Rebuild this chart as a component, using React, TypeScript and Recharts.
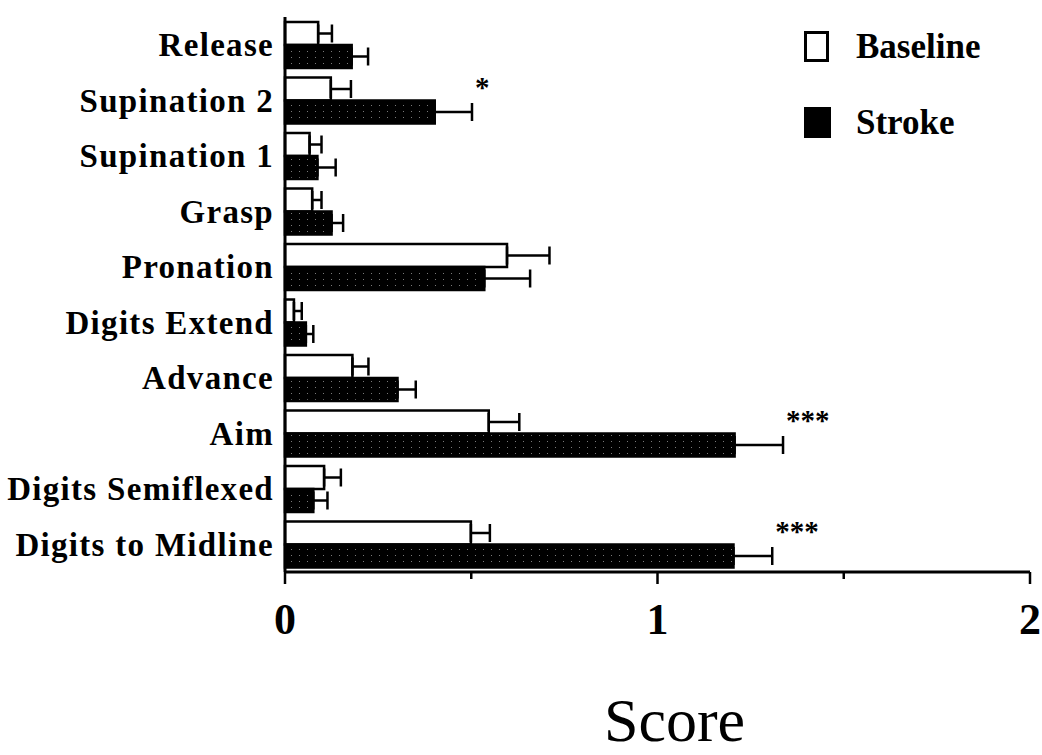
import React from "react"
import {
  BarChart,
  Bar,
  XAxis,
  YAxis,
  ErrorBar,
  LabelList,
  Legend
} from "recharts"

const categories = [
  "Release",
  "Supination 2",
  "Supination 1",
  "Grasp",
  "Pronation",
  "Digits Extend",
  "Advance",
  "Aim",
  "Digits Semiflexed",
  "Digits to Midline"
]

const baseline = [0.089, 0.123, 0.066, 0.073, 0.596, 0.024, 0.181, 0.547, 0.105, 0.499]
const baselineErr = [0.037, 0.054, 0.032, 0.025, 0.114, 0.021, 0.043, 0.082, 0.045, 0.051]
const stroke = [0.179, 0.402, 0.087, 0.125, 0.535, 0.056, 0.302, 1.207, 0.076, 1.204]
const strokeErr = [0.044, 0.1, 0.049, 0.031, 0.123, 0.02, 0.049, 0.13, 0.038, 0.104]
const significance = ["", "*", "", "", "", "", "", "***", "", "***"]

const scoreTicks = [0, 0.5, 1, 1.5, 2]

// keys avoid "stroke" etc, since row fields get spread onto the bar rects
const data = categories.map((name, i) => ({
  name,
  baseScore: baseline[i],
  baseErr: [0, baselineErr[i]],
  strokeScore: stroke[i],
  strokeErrRange: [0, strokeErr[i]],
  sig: significance[i]
}))

const serif = "'Liberation Serif', 'Times New Roman', serif"

const ScoreTick = (props: any) => {
  const { x, y, payload } = props
  const major = Number.isInteger(payload.value)
  return (
    <g>
      <line x1={x} x2={x} y1={y} y2={y + (major ? 12 : 7)} stroke="#000" strokeWidth={2.5} />
      {major && (
        <text x={x} y={y + 62} textAnchor="middle" fontFamily={serif} fontWeight="bold" fontSize={44} fill="#000">
          {payload.value}
        </text>
      )}
    </g>
  )
}

const Stars = (props: any) => {
  const { x, y, width, index, value } = props
  if (!value) return null
  // end of the error bar, in the bar's own pixel scale
  const perUnit = width / stroke[index]
  const end = x + width + strokeErr[index] * perUnit
  return (
    <text x={end + 3} y={y - 4} fontFamily={serif} fontWeight="bold" fontSize={29} fill="#000">
      {value}
    </text>
  )
}

const LegendBox = () => (
  <div style={{ fontFamily: serif, fontWeight: "bold", fontSize: 35, color: "#000" }}>
    <div style={{ display: "flex", alignItems: "center", height: 31 }}>
      <div style={{ flexShrink: 0, width: 25, height: 31, boxSizing: "border-box", border: "3px solid #000", background: "#fff" }} />
      <span style={{ marginLeft: 27 }}>Baseline</span>
    </div>
    <div style={{ display: "flex", alignItems: "center", height: 31, marginTop: 45 }}>
      <div style={{ flexShrink: 0, width: 27, height: 31, background: "#000" }} />
      <span style={{ marginLeft: 25 }}>Stroke</span>
    </div>
  </div>
)

export default function App() {
  return (
    <div style={{ position: "absolute", left: 0, top: 0, background: "#fff" }}>
      <BarChart
        width={1042}
        height={755}
        data={data}
        layout="vertical"
        margin={{ top: 17, right: 12, bottom: 0, left: 0 }}
        barGap={0}
        barSize={23}
      >
        <defs>
          <pattern id="halftone" width={8} height={6} patternUnits="userSpaceOnUse">
            <rect width={8} height={6} fill="#000" />
            <rect x={3} y={3} width={1} height={1} fill="#7a7a7a" />
          </pattern>
        </defs>

        <XAxis
          type="number"
          domain={[0, 2]}
          ticks={scoreTicks}
          height={183}
          tickSize={0}
          tickMargin={0}
          tickLine={false}
          axisLine={{ stroke: "#000", strokeWidth: 3 }}
          tick={<ScoreTick />}
          label={{
            value: "Score",
            position: "insideBottom",
            offset: 14,
            dx: 17,
            style: { fontFamily: serif, fontSize: 62, fill: "#000" }
          }}
        />

        <YAxis
          type="category"
          dataKey="name"
          width={285}
          interval={0}
          tickSize={0}
          tickMargin={11}
          tickLine={false}
          axisLine={{ stroke: "#000", strokeWidth: 3 }}
          tick={{ fontFamily: serif, fontWeight: "bold", fontSize: 33, fill: "#000", letterSpacing: 1.3 }}
        />

        <Legend
          layout="vertical"
          align="center"
          verticalAlign="middle"
          wrapperStyle={{ left: 804, top: 31, width: 220 }}
          content={<LegendBox />}
        />

        <Bar dataKey="baseScore" name="Baseline" fill="#fff" stroke="#000" strokeWidth={2.5} isAnimationActive={false}>
          <ErrorBar dataKey="baseErr" direction="x" width={9} stroke="#000" strokeWidth={2.5} />
        </Bar>

        <Bar dataKey="strokeScore" name="Stroke" fill="url(#halftone)" stroke="#000" strokeWidth={2.5} isAnimationActive={false}>
          <ErrorBar dataKey="strokeErrRange" direction="x" width={9} stroke="#000" strokeWidth={2.5} />
          <LabelList dataKey="sig" content={<Stars />} />
        </Bar>
      </BarChart>
    </div>
  )
}
